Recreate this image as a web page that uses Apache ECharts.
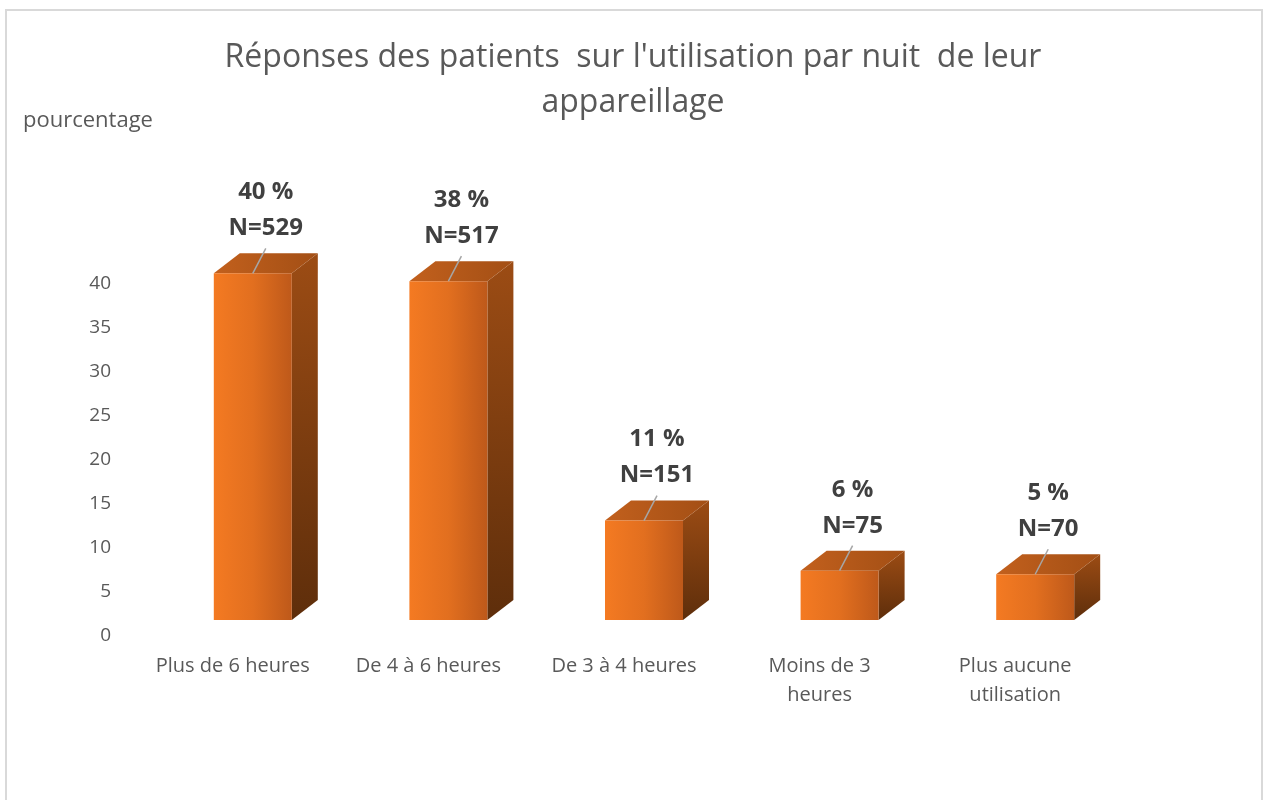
<!DOCTYPE html>
<html>
<head>
<meta charset="utf-8">
<script src="https://cdn.jsdelivr.net/npm/echarts@6/dist/echarts.min.js"></script>
<style>
  html, body { margin: 0; padding: 0; background: #fff; }
  #chart { width: 1266px; height: 800px; }
</style>
</head>
<body>
<div id="chart"></div>
<script>
const categories = ['Plus de 6 heures', 'De 4 à 6 heures', 'De 3 à 4 heures', 'Moins de 3\nheures', 'Plus aucune\nutilisation'];
const percentages = [39.4, 38.5, 11.3, 5.6, 5.2];
const roundedPct = [40, 38, 11, 6, 5];
const counts = [529, 517, 151, 75, 70];

const FONT = '"Open Sans", sans-serif';
const textColor = '#595959';

// 3d box look: front face shifted, depth going up-right
const FRONT_LEFT = -19, FRONT_WIDTH = 78, LIFT = 16, DX = 26, DY = -20;

function renderItem(params, api) {
  const i = api.value(0);
  const base = api.coord([i, 0]);
  const top = api.coord([i, api.value(1)]);
  const x0 = base[0] + FRONT_LEFT;
  const x1 = x0 + FRONT_WIDTH;
  const yb = base[1] - LIFT;
  const yt = top[1] - LIFT;

  return {
    type: 'group',
    children: [
      {
        type: 'polygon',
        shape: { points: [[x1, yt], [x1 + DX, yt + DY], [x1 + DX, yb + DY], [x1, yb]] },
        style: {
          fill: new echarts.graphic.LinearGradient(0, 0, 0, 1, [
            { offset: 0, color: '#9C4C14' },
            { offset: 1, color: '#5E2E0B' }
          ])
        }
      },
      {
        type: 'polygon',
        shape: { points: [[x0, yt], [x0 + DX, yt + DY], [x1 + DX, yt + DY], [x1, yt]] },
        style: {
          fill: new echarts.graphic.LinearGradient(0, 0, 1, 0, [
            { offset: 0, color: '#C2601D' },
            { offset: 1, color: '#A34F15' }
          ])
        }
      },
      {
        type: 'rect',
        shape: { x: x0, y: yt, width: FRONT_WIDTH, height: yb - yt },
        style: {
          fill: new echarts.graphic.LinearGradient(0, 0, 1, 0, [
            { offset: 0, color: '#F47A22' },
            { offset: 0.5, color: '#E26F1F' },
            { offset: 1, color: '#BE591A' }
          ])
        }
      },
      {
        type: 'line',
        shape: { x1: base[0] + 20, y1: yt, x2: base[0] + 33, y2: yt - 25 },
        style: { stroke: '#A6A6A6', lineWidth: 1.5 }
      },
      {
        type: 'text',
        x: base[0] + 33,
        y: yt - 27,
        style: {
          text: roundedPct[i] + ' %\nN=' + counts[i],
          fontFamily: FONT,
          fontSize: 24,
          fontWeight: 'bold',
          lineHeight: 36,
          fill: '#404040',
          align: 'center',
          verticalAlign: 'bottom'
        }
      }
    ]
  };
}

const chart = echarts.init(document.getElementById('chart'));
chart.setOption({
  backgroundColor: '#fff',
  animation: false,
  title: {
    text: "Réponses des patients  sur l'utilisation par nuit  de leur\nappareillage",
    left: 'center',
    top: 30,
    textStyle: { fontFamily: FONT, fontSize: 32, fontWeight: 'normal', color: textColor, lineHeight: 45 }
  },
  graphic: [
    {
      type: 'rect',
      shape: { x: 6, y: 10, width: 1256, height: 800 },
      style: { fill: 'none', stroke: '#D9D9D9', lineWidth: 2 },
      silent: true
    },
    {
      type: 'text',
      left: 23,
      top: 110,
      style: { text: 'pourcentage', fontFamily: FONT, fontSize: 22, fill: textColor }
    }
  ],
  grid: { left: 135, width: 978, top: 284, height: 352 },
  xAxis: {
    type: 'category',
    data: categories,
    axisLine: { show: false },
    axisTick: { show: false },
    axisLabel: { fontFamily: FONT, fontSize: 20, color: textColor, lineHeight: 29, margin: 16, interval: 0 }
  },
  yAxis: {
    type: 'value',
    min: 0,
    max: 40,
    interval: 5,
    axisLine: { show: false },
    axisTick: { show: false },
    splitLine: { show: false },
    axisLabel: { fontFamily: FONT, fontSize: 19, color: textColor, margin: 24, padding: [4, 0, 0, 0] }
  },
  series: [
    {
      type: 'custom',
      clip: false,
      renderItem: renderItem,
      data: categories.map((c, i) => [i, percentages[i]])
    }
  ]
});
</script>
</body>
</html>
